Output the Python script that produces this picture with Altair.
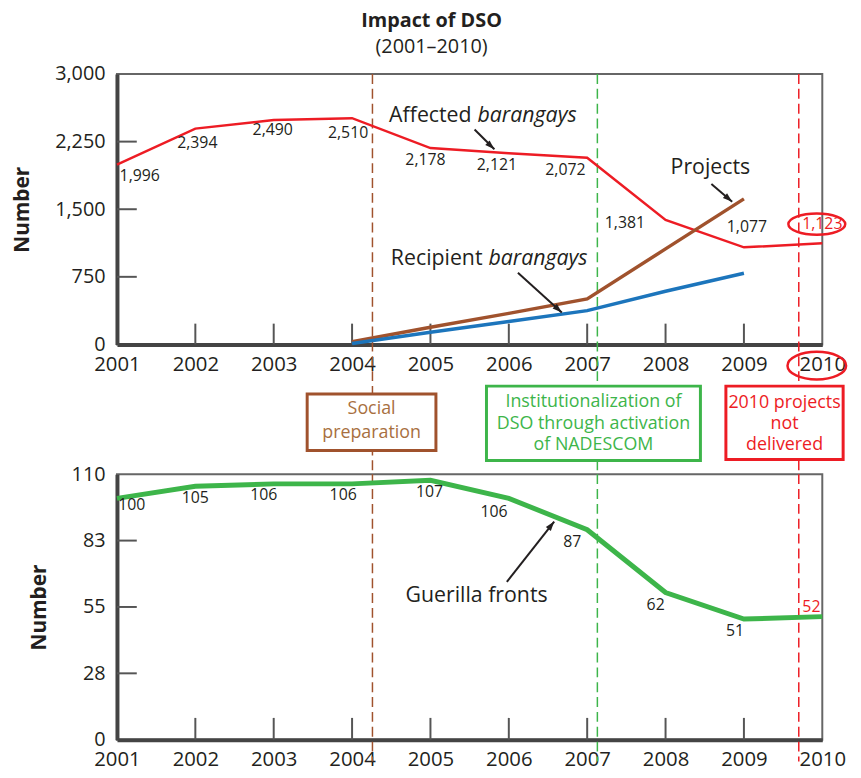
import altair as alt
import pandas as pd

# ---------------- data ----------------
years = [2001, 2002, 2003, 2004, 2005, 2006, 2007, 2008, 2009, 2010]
affected = [1996, 2394, 2490, 2510, 2178, 2121, 2072, 1381, 1077, 1123]
affected_text = ["1,996", "2,394", "2,490", "2,510", "2,178", "2,121", "2,072", "1,381", "1,077", "1,123"]
project_years = [2004, 2005, 2006, 2007, 2008, 2009]
projects = [30, 190, 345, 505, 1060, 1615]
recipient = [10, 135, 255, 375, 590, 790]
guerilla = [100, 105, 106, 106, 107.5, 100, 87, 61, 50, 51]
guerilla_text = ["100", "105", "106", "106", "107", "106", "87", "62", "51", "52"]
top_ticks = [0, 750, 1500, 2250, 3000]
bottom_ticks = [0, 27.5, 55, 82.5, 110]
event_years = [2004.26, 2007.13, 2009.70]
event_lines = [["Social", "preparation"],
               ["Institutionalization of", "DSO through activation", "of NADESCOM"],
               ["2010 projects", "not", "delivered"]]

# ---------------- styles ----------------
FONT = "Open Sans"
RED = "#ed1c24"
BROWN = "#a0522d"
BROWN_TXT = "#a8703f"
BLUE = "#1c75bc"
GREEN = "#3db54a"
INK = "#231f20"
GREY = "#555555"
W, H1, H2 = 712, 273, 268
LBL = 16      # data labels
SER = 21.5    # series labels
BOX = 18      # event box text
event_colors = [BROWN, GREEN, RED]
event_text_colors = [BROWN_TXT, GREEN, RED]

xs = alt.Scale(domain=[2001, 2010], nice=False, zero=False)
ys1 = alt.Scale(domain=[0, 3000], nice=False, zero=False)
ys2 = alt.Scale(domain=[0, 110], nice=False, zero=False)

XA = alt.Axis(values=years, format="d", title=None, grid=False, ticks=False, tickSize=0,
              labelFont=FONT, labelFontSize=20.5, labelColor=INK, labelPadding=10,
              labelFlush=False, labelOverlap=False, domainColor="#444", domainWidth=4)


def yaxis(vals, fmt):
    return alt.Axis(values=vals, format=fmt, title="Number", grid=False, ticks=False, tickSize=0,
                    labelFont=FONT, labelFontSize=20, labelColor=INK, labelPadding=12,
                    labelOverlap=False, labelFlush=False,
                    titleFont=FONT, titleFontSize=21, titleFontWeight="bold", titleColor=INK,
                    titlePadding=22, domainColor="#444", domainWidth=4)


YA1 = yaxis(top_ticks, ",.0f")
YA2 = yaxis(bottom_ticks, ".0f")


def X():
    return alt.X("x:Q", scale=xs, axis=XA)


def Y(ys, ya):
    return alt.Y("y:Q", scale=ys, axis=ya)


def arrow(x1, y1, x2, y2, angle, ys, ya):
    d = pd.DataFrame({"x": [x1], "y": [y1], "x2": [x2], "y2": [y2]})
    line = alt.Chart(d).mark_rule(color=INK, strokeWidth=2, clip=False).encode(
        x=X(), y=Y(ys, ya), x2="x2:Q", y2="y2:Q")
    h = pd.DataFrame({"x": [x2], "y": [y2]})
    head = alt.Chart(h).mark_point(shape="M0,0L-0.8,2.4L0.8,2.4Z", size=64, filled=True,
                                   color=INK, opacity=1, angle=angle, clip=False).encode(
        x=X(), y=Y(ys, ya))
    return [line, head]


def point_labels(xv, yv, texts, offsets, colors, ys, ya):
    out = []
    for x, y, t, (dx, dy), c in zip(xv, yv, texts, offsets, colors):
        d = pd.DataFrame({"x": [x], "y": [y], "t": [t]})
        out.append(alt.Chart(d).mark_text(font=FONT, fontSize=LBL, color=c, dx=dx, dy=dy,
                                          align="center", baseline="middle", clip=False).encode(
            x=X(), y=Y(ys, ya), text="t:N"))
    return out


# ---------------- top panel ----------------
top_layers = []
ev_top = pd.DataFrame({"x": event_years, "y": [3000] * 3, "y2": [-1428] * 3, "c": event_colors})
top_layers.append(alt.Chart(ev_top).mark_rule(strokeWidth=1.5, strokeDash=[10, 5], clip=False).encode(
    x=X(), y=Y(ys1, YA1), y2="y2:Q", color=alt.Color("c:N", scale=None)))
top_layers.append(alt.Chart(pd.DataFrame({"x": years[1:-1]})).mark_rule(color=GREY, strokeWidth=2).encode(
    x=X(), y=alt.value(H1), y2=alt.value(H1 - 21)))
top_layers.append(alt.Chart(pd.DataFrame({"y": top_ticks[1:-1]})).mark_rule(color=GREY, strokeWidth=2).encode(
    y=Y(ys1, YA1), x=alt.value(0), x2=alt.value(20)))
top_layers.append(alt.Chart(pd.DataFrame({"x": years, "y": affected})).mark_line(color=RED, strokeWidth=2.5).encode(
    x=X(), y=Y(ys1, YA1)))
top_layers.append(alt.Chart(pd.DataFrame({"x": project_years, "y": projects})).mark_line(color=BROWN, strokeWidth=3.5).encode(
    x=X(), y=Y(ys1, YA1)))
top_layers.append(alt.Chart(pd.DataFrame({"x": project_years, "y": recipient})).mark_line(color=BLUE, strokeWidth=3.5).encode(
    x=X(), y=Y(ys1, YA1)))
aff_off = [(23, 12), (2, 15), (-1, 10), (-4, 15), (-5, 12), (-12, 12), (-22, 13), (-41, 3), (3, -20), (0, -19)]
aff_col = [INK] * 9 + [RED]
top_layers += point_labels(years, affected, affected_text, aff_off, aff_col, ys1, YA1)


def series_label(x, y, normal, italic, ys, ya):
    d = pd.DataFrame({"x": [x], "y": [y]})
    a = alt.Chart(d).mark_text(text=normal, font=FONT, fontSize=SER, color=INK, align="right",
                               baseline="middle", dx=-3).encode(x=X(), y=Y(ys, ya))
    b = alt.Chart(d).mark_text(text=italic, font=FONT, fontSize=SER, fontStyle="italic", color=INK,
                               align="left", baseline="middle", dx=3).encode(x=X(), y=Y(ys, ya))
    return [a, b]


top_layers += series_label(2005.563, 2538, "Affected", "barangays", ys1, YA1)
top_layers += series_label(2005.702, 945, "Recipient", "barangays", ys1, YA1)
top_layers.append(alt.Chart(pd.DataFrame({"x": [2008.572], "y": [1956]})).mark_text(
    text="Projects", font=FONT, fontSize=SER, color=INK, align="center", baseline="middle").encode(
    x=X(), y=Y(ys1, YA1)))
top_layers += arrow(2005.563, 2385, 2005.816, 2165, 133, ys1, YA1)
top_layers += arrow(2008.585, 1780, 2008.85, 1582, 131, ys1, YA1)
top_layers += arrow(2006.116, 795, 2006.676, 355, 132, ys1, YA1)

ell1 = "M-1,0C-1,-0.207,-0.5523,-0.375,0,-0.375C0.5523,-0.375,1,-0.207,1,0C1,0.207,0.5523,0.375,0,0.375C-0.5523,0.375,-1,0.207,-1,0Z"
ell2 = "M-1,0C-1,-0.26,-0.5523,-0.47,0,-0.47C0.5523,-0.47,1,-0.26,1,0C1,0.26,0.5523,0.47,0,0.47C-0.5523,0.47,-1,0.26,-1,0Z"
top_layers.append(alt.Chart(pd.DataFrame({"x": [2009.93], "y": [1335]})).mark_point(
    shape=ell1, size=3300, filled=False, stroke=RED, strokeWidth=2.5, opacity=1, clip=False).encode(
    x=X(), y=Y(ys1, YA1)))
top_layers.append(alt.Chart(pd.DataFrame({"x": [2009.93], "y": [-235]})).mark_point(
    shape=ell2, size=3500, filled=False, stroke=RED, strokeWidth=2.5, opacity=1, clip=False).encode(
    x=X(), y=Y(ys1, YA1)))

top = alt.layer(*top_layers).properties(width=W, height=H1)

# ---------------- bottom panel ----------------
bot = []
ev_bot = pd.DataFrame({"x": event_years, "y": [110] * 3, "y2": [-9] * 3, "c": event_colors})
bot.append(alt.Chart(ev_bot).mark_rule(strokeWidth=1.5, strokeDash=[10, 5], clip=False).encode(
    x=X(), y=Y(ys2, YA2), y2="y2:Q", color=alt.Color("c:N", scale=None)))
bot.append(alt.Chart(pd.DataFrame({"x": years[1:-1]})).mark_rule(color=GREY, strokeWidth=2).encode(
    x=X(), y=alt.value(H2), y2=alt.value(H2 - 22)))
bot.append(alt.Chart(pd.DataFrame({"y": bottom_ticks[1:-1]})).mark_rule(color=GREY, strokeWidth=2).encode(
    y=Y(ys2, YA2), x=alt.value(0), x2=alt.value(20)))
bot.append(alt.Chart(pd.DataFrame({"x": years, "y": guerilla})).mark_line(color=GREEN, strokeWidth=5).encode(
    x=X(), y=Y(ys2, YA2)))
g_off = [(15, 7), (0, 12), (-10, 11), (-9, 11), (-1, 12), (-15, 14), (-15, 12), (-10, 13), (-9, 12), (-11, -10)]
g_col = [INK] * 9 + [RED]
bot += point_labels(years, guerilla, guerilla_text, g_off, g_col, ys2, YA2)
bot.append(alt.Chart(pd.DataFrame({"x": [2005.589], "y": [59.5]})).mark_text(
    text="Guerilla fronts", font=FONT, fontSize=SER, color=INK, align="center", baseline="middle").encode(
    x=X(), y=Y(ys2, YA2)))
bot += arrow(2005.975, 65.4, 2006.579, 90.4, 38, ys2, YA2)

box_x1 = [2003.427, 2005.715, 2008.77]
box_x2 = [2005.070, 2008.445, 2010.266]
box_y1 = [143.25, 146.5, 146.5]
box_y2 = [119.85, 115.7, 116.1]
boxes = pd.DataFrame({"x": box_x1, "x2": box_x2, "y": box_y1, "y2": box_y2, "c": event_colors})
bot.append(alt.Chart(boxes).mark_rect(fill="white", strokeWidth=3, clip=False).encode(
    x=X(), x2="x2:Q", y=Y(ys2, YA2), y2="y2:Q", stroke=alt.Stroke("c:N", scale=None)))

text_cx = [2004.249, 2007.08, 2009.518]
text_rows = [[137.1, 127.2], [140.0, 130.9, 121.9], [139.6, 130.9, 121.9]]
for lines, cx, rows, col in zip(event_lines, text_cx, text_rows, event_text_colors):
    d = pd.DataFrame({"x": [cx] * len(lines), "y": rows, "t": lines})
    bot.append(alt.Chart(d).mark_text(font=FONT, fontSize=BOX, color=col, align="center",
                                      baseline="middle", clip=False).encode(
        x=X(), y=Y(ys2, YA2), text="t:N"))

bottom = alt.layer(*bot).properties(width=W, height=H2)

chart = alt.vconcat(
    top, bottom, spacing=131, bounds="flush",
    padding={"left": 3, "top": 0, "right": 0, "bottom": 0},
    title=alt.TitleParams(text="Impact of DSO", subtitle="(2001–2010)", font=FONT, fontSize=20,
                          fontWeight="bold", color=INK, subtitleFont=FONT, subtitleFontSize=20,
                          subtitleColor=INK, subtitlePadding=6, anchor="middle", frame="bounds",
                          offset=6),
).configure_view(stroke="#666666", strokeWidth=2)

chart.save("out.html", embed_options={"renderer": "svg", "actions": False})
